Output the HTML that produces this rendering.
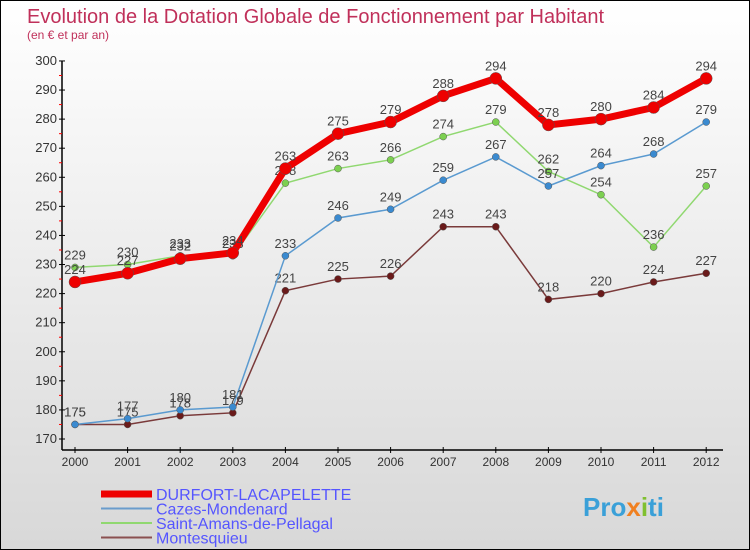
<!DOCTYPE html>
<html><head><meta charset="utf-8"><style>
body{margin:0}
#c{width:748px;height:548px;border:1px solid #000;background:linear-gradient(#fff,#d8d8d8);position:relative;font-family:"Liberation Sans","DejaVu Sans",sans-serif;overflow:hidden}
</style></head><body>
<div id="c">
<svg id="s" width="748" height="548" style="position:absolute;left:0;top:0">
<text x="26" y="22" font-size="20" fill="#c0305a">Evolution de la Dotation Globale de Fonctionnement par Habitant</text>
<text x="26" y="38" font-size="12" fill="#c0305a">(en € et par an)</text>
<text x="582" y="515" font-size="26" font-weight="bold" fill="#3aa0d8">Pro<tspan fill="#f08020">x</tspan><tspan fill="#80c030">i</tspan>ti</text>
</svg>
</div>
<script>
const years=[2000,2001,2002,2003,2004,2005,2006,2007,2008,2009,2010,2011,2012];
const yTicks=[170,180,190,200,210,220,230,240,250,260,270,280,290,300];
const durfort=[224,227,232,234,263,275,279,288,294,278,280,284,294];
const cazes=[175,177,180,181,233,246,249,259,267,257,264,268,279];
const saint=[229,230,233,233,258,263,266,274,279,262,254,236,257];
const montes=[175,175,178,179,221,225,226,243,243,218,220,224,227];
const NS="http://www.w3.org/2000/svg",s=document.getElementById('s');
const X=i=>74+i*52.6, Y=v=>438-(v-170)*2.908;
function mk(t,a,p){const e=document.createElementNS(NS,t);for(const k in a)e.setAttribute(k,a[k]);(p||s).appendChild(e);return e;}
let ax=mk('line',{x1:61,y1:Y(300),x2:61,y2:449,stroke:'#000','stroke-width':1.5});


let bx=mk('line',{x1:61,y1:449,x2:722,y2:449,stroke:'#000','stroke-width':1.5});


yTicks.forEach(v=>{mk('line',{x1:58,x2:64,y1:Y(v),y2:Y(v),stroke:'#000'});
 if(v<300)mk('line',{x1:58,x2:61,y1:Y(v+5),y2:Y(v+5),stroke:'red'});
 const t=mk('text',{x:56,y:Y(v)+4,'font-size':13,fill:'#333','text-anchor':'end'});t.textContent=v;
 
 });
years.forEach((y,i)=>{mk('line',{x1:X(i),x2:X(i),y1:446,y2:452,stroke:'#000'});
 const t=mk('text',{x:X(i),y:465,'font-size':12,fill:'#333','text-anchor':'middle'});t.textContent=y;
 
 });
function series(d,col,w,r,fill,name){
 const p=mk('polyline',{points:d.map((v,i)=>X(i)+','+Y(v)).join(' '),fill:'none',stroke:col,'stroke-width':w});
 
 
 d.forEach((v,i)=>{const c=mk('circle',{cx:X(i),cy:Y(v),r:r,fill:fill,stroke:'#555','stroke-width':0.5});
  
  
  const t=mk('text',{x:X(i),y:Y(v)-8,'font-size':13,fill:'#444','text-anchor':'middle'});t.textContent=v;
  
  });
}
series(montes,'#7a3a3a',1.5,3.5,'#6a1a1a','montesquieu');
series(saint,'#90d870',1.5,3.5,'#7cd050','saint-amans');
series(cazes,'#5a9ad0',1.5,3.5,'#3a8ad0','cazes');
series(durfort,'#ee0000',7,6,'#ee0000','durfort');
const leg=[['DURFORT-LACAPELETTE','#ee0000',7],['Cazes-Mondenard','#6a9ccc',2],['Saint-Amans-de-Pellagal','#90d870',2],['Montesquieu','#8a5050',2]];
leg.forEach((l,i)=>{const y=493+i*14.5;
 const g=mk('g',{});
 mk('line',{x1:100,x2:151,y1:y,y2:y,stroke:l[1],'stroke-width':l[2]},g);
 const t=mk('text',{x:155,y:y+6,'font-size':16,fill:'#5555ff'},g);t.textContent=l[0];});
</script>
</body></html>
